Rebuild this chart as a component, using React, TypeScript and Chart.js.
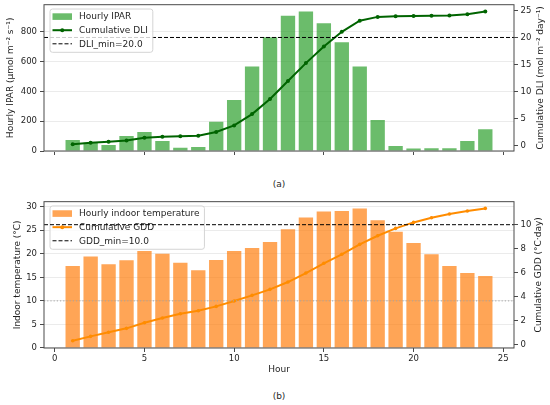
import React, { useEffect, useRef } from 'react';
import { Chart, registerables } from 'chart.js';

Chart.register(...registerables);

const hours = [1, 2, 3, 4, 5, 6, 7, 8, 9, 10, 11, 12, 13, 14, 15, 16, 17, 18, 19, 20, 21, 22, 23, 24];
const hourlyIpar = [74, 55, 40, 100, 128, 67, 21, 27, 197, 343, 568, 765, 908, 937, 859, 731, 567, 208, 34, 16, 18, 18, 67, 146];
const cumulativeDli = [0.31, 0.56, 0.74, 0.99, 1.48, 1.7, 1.79, 1.85, 2.56, 3.77, 5.86, 8.64, 11.98, 15.27, 18.32, 21.05, 23.1, 23.8, 23.9, 23.95, 24.0, 24.05, 24.3, 24.8];
const indoorTemp = [17.4, 19.4, 17.8, 18.6, 20.6, 20.0, 18.1, 16.5, 18.7, 20.6, 21.2, 22.5, 25.2, 27.7, 29.0, 29.1, 29.6, 27.1, 24.7, 22.3, 19.9, 17.4, 15.9, 15.3];
const cumulativeGdd = [0.33, 0.69, 1.03, 1.36, 1.83, 2.22, 2.58, 2.83, 3.19, 3.64, 4.11, 4.61, 5.22, 5.97, 6.78, 7.53, 8.36, 9.08, 9.69, 10.19, 10.58, 10.89, 11.14, 11.36];

const dliMin = 20.0;
const gddMin = 10.0;
const baseTemp = 10;

const hourTicks = [0, 5, 10, 15, 20, 25];
const iparTicks = [0, 200, 400, 600, 800];
const dliTicks = [0, 5, 10, 15, 20, 25];
const tempTicks = [0, 5, 10, 15, 20, 25, 30];
const gddTicks = [0, 2, 4, 6, 8, 10];

const FONT = 'DejaVu Sans';
const INK = '#1f1f1f';
const SPINE = '#4a4a4a';
const GRID = '#ebebeb';

type LegendItem = { label: string; kind: 'bar' | 'line' | 'dash'; color: string };

const pts = (ys: number[]) => hours.map((h, i) => ({ x: h, y: ys[i] }));

const setTicks = (values: number[]) => (scale: any) => {
  scale.ticks = values.map((v) => ({ value: v }));
};

// force exact box sizes so the plot areas line up with the reference
const fitBox = (size: number, horizontal: boolean) => (scale: any) => {
  if (horizontal) scale.height = size;
  else scale.width = size;
  scale.paddingTop = 0;
  scale.paddingBottom = 0;
  scale.paddingLeft = 0;
  scale.paddingRight = 0;
};

const hLine = (chart: any, y: number, color: string, dash: number[]) => {
  const { ctx, chartArea: a } = chart;
  ctx.save();
  ctx.strokeStyle = color;
  ctx.lineWidth = 1;
  ctx.setLineDash(dash);
  ctx.beginPath();
  ctx.moveTo(a.left, y);
  ctx.lineTo(a.right, y);
  ctx.stroke();
  ctx.restore();
};

const drawLegend = (chart: any, items: LegendItem[]) => {
  const { ctx, chartArea: a } = chart;
  const x = a.left + 6;
  const y = a.top + 4.3;
  ctx.save();
  ctx.font = `9px "${FONT}"`;
  const textX = 29;
  const w = textX + Math.max(...items.map((it) => ctx.measureText(it.label).width)) + 5;
  const rowH = 13.6;
  const h = items.length * rowH + 2.5;
  ctx.beginPath();
  ctx.roundRect(x, y, w, h, 2.5);
  ctx.fillStyle = 'rgba(255,255,255,0.8)';
  ctx.fill();
  ctx.strokeStyle = '#d4d4d4';
  ctx.lineWidth = 1;
  ctx.stroke();
  items.forEach((it, i) => {
    const cy = y + 7.6 + i * rowH;
    const x0 = x + 2.5;
    const x1 = x + 22;
    if (it.kind === 'bar') {
      ctx.fillStyle = it.color;
      ctx.fillRect(x0, cy - 3.3, x1 - x0, 6.6);
    } else {
      ctx.strokeStyle = it.color;
      ctx.lineWidth = it.kind === 'line' ? 2 : 1;
      ctx.setLineDash(it.kind === 'dash' ? [4, 2] : []);
      ctx.beginPath();
      ctx.moveTo(x0, cy);
      ctx.lineTo(x1, cy);
      ctx.stroke();
      ctx.setLineDash([]);
      if (it.kind === 'line') {
        ctx.fillStyle = it.color;
        ctx.beginPath();
        ctx.arc((x0 + x1) / 2, cy, 2, 0, Math.PI * 2);
        ctx.fill();
      }
    }
    ctx.fillStyle = INK;
    ctx.textBaseline = 'middle';
    ctx.textAlign = 'left';
    ctx.fillText(it.label, x + textX, cy + 0.5);
  });
  ctx.restore();
};

const drawFrame = (chart: any) => {
  const { ctx, chartArea: a } = chart;
  ctx.save();
  ctx.strokeStyle = SPINE;
  ctx.lineWidth = 1;
  ctx.strokeRect(a.left, a.top, a.right - a.left, a.bottom - a.top);
  ctx.restore();
};

const drawRightTitle = (chart: any, text: string, x: number) => {
  const { ctx, chartArea: a } = chart;
  ctx.save();
  ctx.translate(x, (a.top + a.bottom) / 2);
  ctx.rotate(-Math.PI / 2);
  ctx.font = `9px "${FONT}"`;
  ctx.fillStyle = INK;
  ctx.textAlign = 'center';
  ctx.textBaseline = 'middle';
  ctx.fillText(text, 0, 0);
  ctx.restore();
};

const tickFont = { family: FONT, size: 8.5 };
const titleFont = { family: FONT, size: 9 };

interface PanelSpec {
  barLabel: string;
  barValues: number[];
  barColor: string;
  lineLabel: string;
  lineValues: number[];
  lineColor: string;
  pointRadius: number;
  yMax: number;
  yTicks: number[];
  yTitle: string;
  yTitlePad: number;
  y1Min: number;
  y1Max: number;
  y1Ticks: number[];
  y1Title: string;
  y1TitleX: number;
  xHeight: number;
  xLabels: boolean;
  padTop: number;
  overlay: (chart: any) => void;
}

const buildChart = (canvas: HTMLCanvasElement, p: PanelSpec) =>
  new Chart(canvas, {
    type: 'bar',
    data: {
      datasets: [
        {
          type: 'line',
          label: p.lineLabel,
          data: pts(p.lineValues),
          yAxisID: 'y1',
          borderColor: p.lineColor,
          backgroundColor: p.lineColor,
          borderWidth: 2,
          pointRadius: p.pointRadius,
          pointBorderWidth: 0,
          tension: 0,
          order: 0,
        },
        {
          type: 'bar',
          label: p.barLabel,
          data: pts(p.barValues),
          yAxisID: 'y',
          backgroundColor: p.barColor,
          barPercentage: 0.8,
          categoryPercentage: 1,
          order: 1,
        },
      ] as any,
    },
    options: {
      responsive: false,
      animation: false,
      layout: { padding: { top: p.padTop, left: 0, right: 0, bottom: 0 } },
      plugins: { legend: { display: false }, tooltip: { enabled: false } },
      scales: {
        x: {
          type: 'linear',
          min: -0.6,
          max: 25.6,
          offset: false,
          afterBuildTicks: setTicks(hourTicks),
          afterFit: fitBox(p.xHeight, true),
          border: { display: false },
          grid: { offset: false, drawOnChartArea: false, tickLength: 4, tickColor: SPINE, tickWidth: 1 },
          ticks: {
            color: INK,
            font: tickFont,
            padding: 1.5,
            maxRotation: 0,
            autoSkip: false,
            callback: (v: any) => (p.xLabels ? String(v) : ''),
          },
          title: {
            display: p.xLabels,
            text: 'Hour',
            color: INK,
            font: titleFont,
            padding: { top: 0, bottom: 4.6 },
          },
        },
        y: {
          type: 'linear',
          position: 'left',
          min: 0,
          max: p.yMax,
          afterBuildTicks: setTicks(p.yTicks),
          afterFit: fitBox(44, false),
          border: { display: false },
          grid: { color: GRID, lineWidth: 1, tickLength: 4, tickColor: SPINE, tickWidth: 1 },
          ticks: { color: INK, font: tickFont, padding: 3 },
          title: {
            display: true,
            text: p.yTitle,
            color: INK,
            font: titleFont,
            padding: { top: p.yTitlePad, bottom: 0 },
          },
        },
        y1: {
          type: 'linear',
          position: 'right',
          min: p.y1Min,
          max: p.y1Max,
          afterBuildTicks: setTicks(p.y1Ticks),
          afterFit: fitBox(36, false),
          border: { display: false },
          grid: { drawOnChartArea: false, tickLength: 4, tickColor: SPINE, tickWidth: 1 },
          ticks: { color: INK, font: tickFont, padding: 2.5 },
        },
      },
    },
    plugins: [
      {
        id: 'overlay',
        afterDatasetsDraw: (chart: any) => p.overlay(chart),
        afterDraw: (chart: any) => {
          drawFrame(chart);
          drawRightTitle(chart, p.y1Title, p.y1TitleX);
        },
      },
    ],
  });

const green = 'rgba(44, 160, 44, 0.7)';
const darkGreen = '#006400';
const orange = 'rgba(255, 127, 14, 0.7)';
const darkOrange = '#ff8c00';

const caption: React.CSSProperties = {
  position: 'absolute',
  left: 279,
  transform: 'translate(-50%, -50%)',
  font: `9px "${FONT}"`,
  color: INK,
  whiteSpace: 'nowrap',
};

const App: React.FC = () => {
  const topRef = useRef<HTMLCanvasElement | null>(null);
  const bottomRef = useRef<HTMLCanvasElement | null>(null);

  useEffect(() => {
    if (!topRef.current || !bottomRef.current) return;

    const top = buildChart(topRef.current, {
      barLabel: 'Hourly IPAR',
      barValues: hourlyIpar,
      barColor: green,
      lineLabel: 'Cumulative DLI',
      lineValues: cumulativeDli,
      lineColor: darkGreen,
      pointRadius: 2,
      yMax: 983,
      yTicks: iparTicks,
      yTitle: 'Hourly IPAR (μmol m⁻² s⁻¹)',
      yTitlePad: 5,
      y1Min: -0.95,
      y1Max: 26.05,
      y1Ticks: dliTicks,
      y1Title: 'Cumulative DLI (mol m⁻² day⁻¹)',
      y1TitleX: 541,
      xHeight: 24,
      xLabels: false,
      padTop: 4.7,
      overlay: (chart) => {
        hLine(chart, chart.scales.y1.getPixelForValue(dliMin), '#000', [4, 2]);
        drawLegend(chart, [
          { label: 'Hourly IPAR', kind: 'bar', color: green },
          { label: 'Cumulative DLI', kind: 'line', color: darkGreen },
          { label: `DLI_min=${dliMin.toFixed(1)}`, kind: 'dash', color: '#000' },
        ]);
      },
    });

    const bottom = buildChart(bottomRef.current, {
      barLabel: 'Hourly indoor temperature',
      barValues: indoorTemp,
      barColor: orange,
      lineLabel: 'Cumulative GDD',
      lineValues: cumulativeGdd,
      lineColor: darkOrange,
      pointRadius: 1.8,
      yMax: 31.06,
      yTicks: tempTicks,
      yTitle: 'Indoor temperature (°C)',
      yTitlePad: 12.6,
      y1Min: -0.28,
      y1Max: 11.92,
      y1Ticks: gddTicks,
      y1Title: 'Cumulative GDD (°C·day)',
      y1TitleX: 539,
      xHeight: 32,
      xLabels: true,
      padTop: 11.67,
      overlay: (chart) => {
        hLine(chart, chart.scales.y.getPixelForValue(baseTemp), '#a6a6a6', [1.2, 2]);
        drawLegend(chart, [
          { label: 'Hourly indoor temperature', kind: 'bar', color: orange },
          { label: 'Cumulative GDD', kind: 'line', color: darkOrange },
          { label: `GDD_min=${gddMin.toFixed(1)}`, kind: 'dash', color: '#000' },
        ]);
        hLine(chart, chart.scales.y1.getPixelForValue(gddMin), '#000', [4, 2]);
      },
    });

    return () => {
      top.destroy();
      bottom.destroy();
    };
  }, []);

  return (
    <div style={{ position: 'absolute', left: 0, top: 0, width: 550, height: 405, background: '#fff' }}>
      <canvas ref={topRef} width={550} height={175} style={{ position: 'absolute', left: 0, top: 0 }} />
      <div style={{ ...caption, top: 183.5 }}>(a)</div>
      <canvas ref={bottomRef} width={550} height={190} style={{ position: 'absolute', left: 0, top: 190 }} />
      <div style={{ ...caption, top: 395.5 }}>(b)</div>
    </div>
  );
};

export default App;
